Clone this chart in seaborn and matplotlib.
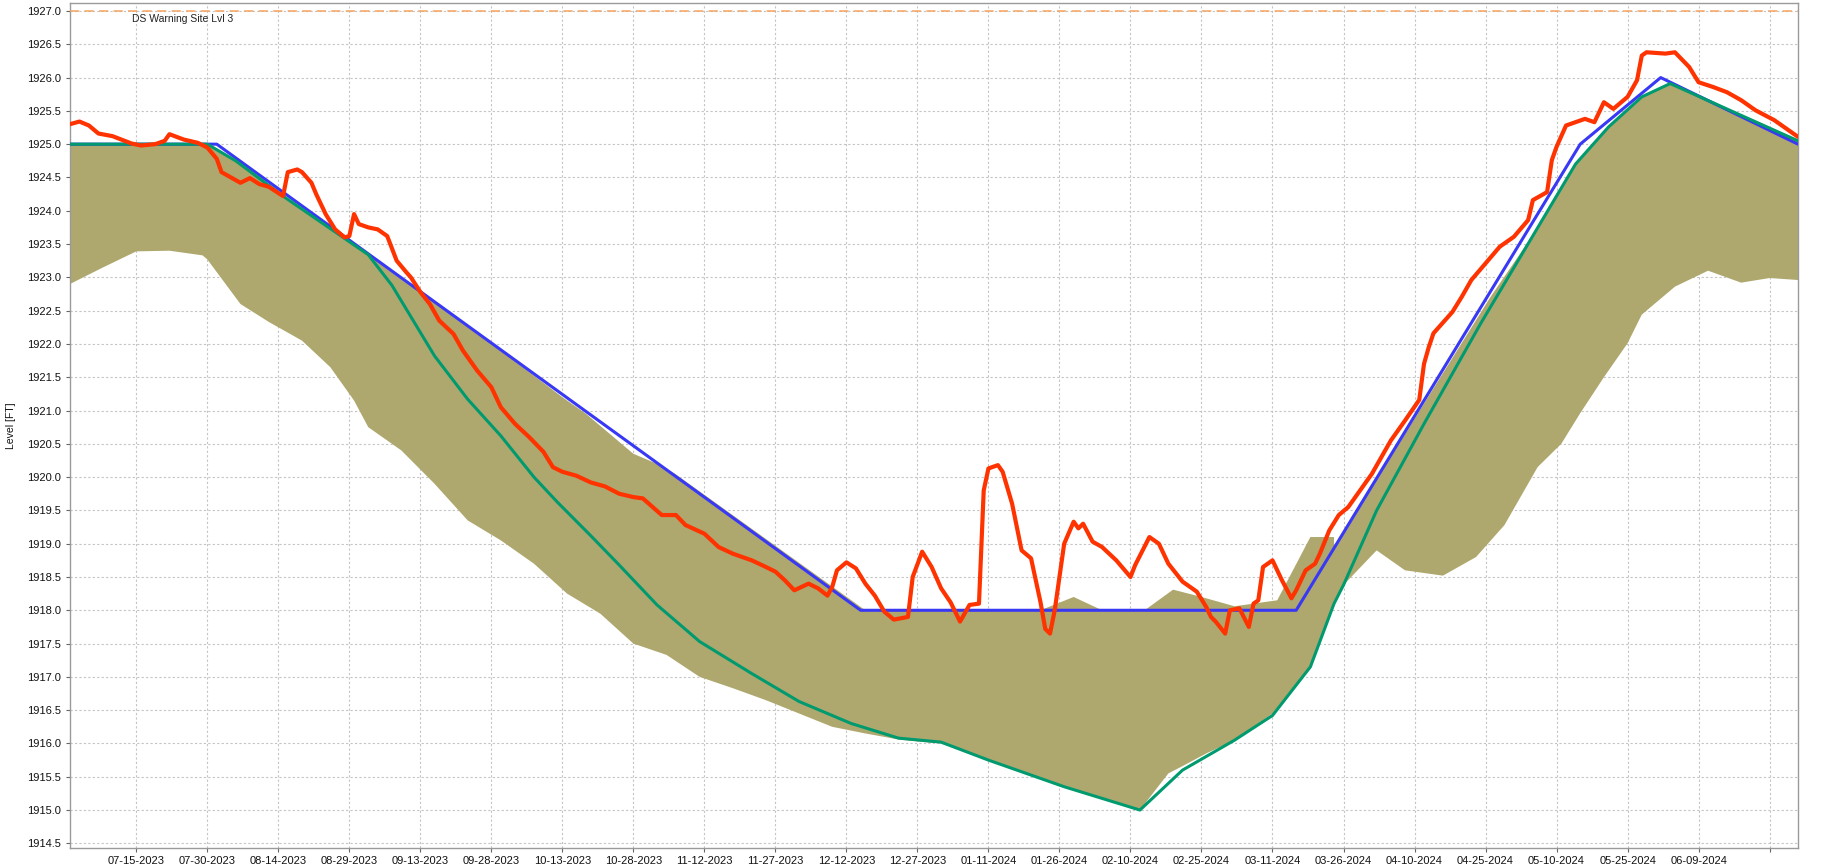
import numpy as np
import pandas as pd
import matplotlib
matplotlib.use("Agg")
import matplotlib.pyplot as plt
import matplotlib.dates as mdates
import seaborn as sns

# Observed pool level (red)
obs_dates = [
    "2023-07-01", "2023-07-03", "2023-07-05", "2023-07-07", "2023-07-10", "2023-07-14",
    "2023-07-16", "2023-07-19", "2023-07-21", "2023-07-22", "2023-07-25", "2023-07-28",
    "2023-07-30", "2023-08-01", "2023-08-02", "2023-08-04", "2023-08-06", "2023-08-08",
    "2023-08-10", "2023-08-12", "2023-08-15", "2023-08-16", "2023-08-18", "2023-08-19",
    "2023-08-21", "2023-08-22", "2023-08-24", "2023-08-26", "2023-08-28", "2023-08-29",
    "2023-08-30", "2023-08-31", "2023-09-02", "2023-09-04", "2023-09-06", "2023-09-08",
    "2023-09-10", "2023-09-11", "2023-09-13", "2023-09-15", "2023-09-17", "2023-09-20",
    "2023-09-22", "2023-09-25", "2023-09-28", "2023-09-30", "2023-10-03", "2023-10-06",
    "2023-10-09", "2023-10-11", "2023-10-13", "2023-10-16", "2023-10-19", "2023-10-22",
    "2023-10-25", "2023-10-28", "2023-10-30", "2023-11-03", "2023-11-06", "2023-11-08",
    "2023-11-12", "2023-11-15", "2023-11-18", "2023-11-22", "2023-11-25", "2023-11-27",
    "2023-11-29", "2023-12-01", "2023-12-04", "2023-12-06", "2023-12-08", "2023-12-09",
    "2023-12-10", "2023-12-12", "2023-12-14", "2023-12-16", "2023-12-18", "2023-12-20",
    "2023-12-22", "2023-12-25", "2023-12-26", "2023-12-28", "2023-12-30", "2024-01-01",
    "2024-01-03", "2024-01-05", "2024-01-07", "2024-01-09", "2024-01-10", "2024-01-11",
    "2024-01-13", "2024-01-14", "2024-01-16", "2024-01-18", "2024-01-20", "2024-01-22",
    "2024-01-23", "2024-01-24", "2024-01-25", "2024-01-27", "2024-01-29", "2024-01-30",
    "2024-01-31", "2024-02-02", "2024-02-04", "2024-02-07", "2024-02-10", "2024-02-11",
    "2024-02-14", "2024-02-16", "2024-02-18", "2024-02-21", "2024-02-24", "2024-02-26",
    "2024-02-27", "2024-02-28", "2024-03-01", "2024-03-02", "2024-03-04", "2024-03-06",
    "2024-03-07", "2024-03-08", "2024-03-09", "2024-03-11", "2024-03-13", "2024-03-15",
    "2024-03-16", "2024-03-18", "2024-03-20", "2024-03-21", "2024-03-23", "2024-03-25",
    "2024-03-27", "2024-03-29", "2024-04-01", "2024-04-03", "2024-04-05", "2024-04-08",
    "2024-04-11", "2024-04-12", "2024-04-13", "2024-04-14", "2024-04-18", "2024-04-20",
    "2024-04-22", "2024-04-25", "2024-04-28", "2024-05-01", "2024-05-04", "2024-05-05",
    "2024-05-08", "2024-05-09", "2024-05-10", "2024-05-12", "2024-05-16", "2024-05-18",
    "2024-05-20", "2024-05-22", "2024-05-25", "2024-05-27", "2024-05-28", "2024-05-29",
    "2024-06-02", "2024-06-04", "2024-06-07", "2024-06-09", "2024-06-12", "2024-06-15",
    "2024-06-18", "2024-06-21", "2024-06-25", "2024-06-28", "2024-06-30",
]
obs_level = [
    1925.30, 1925.34, 1925.28, 1925.16, 1925.12, 1925.01,
    1924.98, 1925.00, 1925.05, 1925.15, 1925.07, 1925.02,
    1924.95, 1924.78, 1924.58, 1924.50, 1924.42, 1924.49,
    1924.40, 1924.36, 1924.22, 1924.58, 1924.62, 1924.58,
    1924.42, 1924.25, 1923.95, 1923.72, 1923.60, 1923.62,
    1923.95, 1923.80, 1923.75, 1923.72, 1923.62, 1923.25,
    1923.08, 1923.00, 1922.78, 1922.60, 1922.35, 1922.15,
    1921.90, 1921.60, 1921.35, 1921.05, 1920.80, 1920.60,
    1920.38, 1920.15, 1920.08, 1920.02, 1919.92, 1919.86,
    1919.75, 1919.70, 1919.68, 1919.43, 1919.43, 1919.28,
    1919.15, 1918.95, 1918.85, 1918.75, 1918.65, 1918.58,
    1918.45, 1918.30, 1918.40, 1918.33, 1918.22, 1918.35,
    1918.60, 1918.72, 1918.63, 1918.40, 1918.22, 1917.98,
    1917.86, 1917.90, 1918.50, 1918.88, 1918.65, 1918.33,
    1918.12, 1917.83, 1918.08, 1918.10, 1919.80, 1920.13,
    1920.18, 1920.08, 1919.60, 1918.90, 1918.78, 1918.12,
    1917.72, 1917.65, 1918.00, 1919.00, 1919.33, 1919.23,
    1919.30, 1919.03, 1918.95, 1918.75, 1918.50, 1918.68,
    1919.10, 1919.00, 1918.70, 1918.43, 1918.28, 1918.05,
    1917.90, 1917.83, 1917.65, 1918.00, 1918.03, 1917.75,
    1918.10, 1918.15, 1918.65, 1918.75, 1918.45, 1918.18,
    1918.30, 1918.60, 1918.70, 1918.85, 1919.20, 1919.43,
    1919.55, 1919.75, 1920.05, 1920.30, 1920.55, 1920.85,
    1921.16, 1921.70, 1921.95, 1922.16, 1922.48, 1922.71,
    1922.96, 1923.21, 1923.46, 1923.61, 1923.86, 1924.16,
    1924.28, 1924.76, 1924.96, 1925.28, 1925.38, 1925.33,
    1925.63, 1925.53, 1925.71, 1925.96, 1926.33, 1926.38,
    1926.36, 1926.38, 1926.16, 1925.93, 1925.86, 1925.78,
    1925.66, 1925.51, 1925.36, 1925.21, 1925.11,
]

# Upper guide curve (blue)
upper_rule_dates = ["2023-07-01", "2023-08-01", "2023-12-15", "2024-03-16",
                    "2024-05-15", "2024-06-01", "2024-06-30"]
upper_rule_level = [1925.0, 1925.0, 1918.0, 1918.0, 1925.0, 1926.0, 1925.0]

# Lower guide curve (green)
lower_rule_dates = [
    "2023-07-01", "2023-07-30", "2023-08-05", "2023-08-15", "2023-09-02", "2023-09-07",
    "2023-09-16", "2023-09-23", "2023-09-30", "2023-10-07", "2023-10-12", "2023-10-19",
    "2023-10-25", "2023-11-02", "2023-11-11", "2023-11-22", "2023-12-02", "2023-12-13",
    "2023-12-23", "2024-01-01", "2024-01-11", "2024-01-27", "2024-02-12", "2024-02-21",
    "2024-03-03", "2024-03-11", "2024-03-19", "2024-03-24", "2024-03-26", "2024-04-02",
    "2024-04-12", "2024-04-24", "2024-05-14", "2024-05-21", "2024-05-28", "2024-06-03",
    "2024-06-30",
]
lower_rule_level = [
    1925.0, 1925.0, 1924.75, 1924.22, 1923.34, 1922.88,
    1921.82, 1921.17, 1920.62, 1920.00, 1919.62, 1919.12,
    1918.68, 1918.08, 1917.53, 1917.05, 1916.63, 1916.30,
    1916.08, 1916.02, 1915.75, 1915.35, 1915.00, 1915.60,
    1916.05, 1916.42, 1917.15, 1918.10, 1918.38, 1919.50,
    1920.80, 1922.31, 1924.70, 1925.26, 1925.71, 1925.91,
    1925.05,
]

# Shaded band, top edge and bottom edge
band_top_dates = [
    "2023-07-01", "2023-07-30", "2023-08-05", "2023-08-15", "2023-09-02", "2023-09-30",
    "2023-10-13", "2023-10-18", "2023-10-28", "2023-11-02", "2023-11-06", "2023-12-16",
    "2024-01-22", "2024-01-29", "2024-02-04", "2024-02-13", "2024-02-19", "2024-02-25",
    "2024-03-03", "2024-03-12", "2024-03-19", "2024-03-24", "2024-03-24", "2024-04-26",
    "2024-05-06", "2024-05-14", "2024-05-21", "2024-05-28", "2024-06-03", "2024-06-30",
]
band_top_level = [
    1925.0, 1925.0, 1924.75, 1924.22, 1923.34, 1921.90,
    1921.20, 1920.95, 1920.35, 1920.20, 1920.04, 1918.00,
    1918.00, 1918.20, 1918.00, 1918.00, 1918.31, 1918.20,
    1918.06, 1918.15, 1919.10, 1919.10, 1918.94, 1922.70,
    1923.74, 1924.70, 1925.26, 1925.71, 1925.91, 1925.05,
]
band_bottom_dates = [
    "2023-07-01", "2023-07-08", "2023-07-15", "2023-07-22", "2023-07-29", "2023-07-30",
    "2023-08-06", "2023-08-12", "2023-08-19", "2023-08-25", "2023-08-30", "2023-09-02",
    "2023-09-09", "2023-09-16", "2023-09-23", "2023-09-30", "2023-10-07", "2023-10-14",
    "2023-10-21", "2023-10-28", "2023-11-04", "2023-11-11", "2023-11-18", "2023-11-25",
    "2023-12-02", "2023-12-09", "2023-12-16", "2023-12-23", "2023-12-30", "2024-01-01",
    "2024-01-11", "2024-01-27", "2024-02-12", "2024-02-18", "2024-02-21", "2024-02-26",
    "2024-03-03", "2024-03-11", "2024-03-19", "2024-03-24", "2024-03-26", "2024-04-02",
    "2024-04-08", "2024-04-16", "2024-04-23", "2024-04-29", "2024-05-06", "2024-05-11",
    "2024-05-15", "2024-05-20", "2024-05-25", "2024-05-28", "2024-06-04", "2024-06-11",
    "2024-06-18", "2024-06-24", "2024-06-30",
]
band_bottom_level = [
    1922.90, 1923.15, 1923.39, 1923.40, 1923.33, 1923.27,
    1922.60, 1922.33, 1922.05, 1921.65, 1921.15, 1920.75,
    1920.40, 1919.90, 1919.35, 1919.05, 1918.70, 1918.25,
    1917.95, 1917.50, 1917.33, 1917.00, 1916.83, 1916.65,
    1916.45, 1916.25, 1916.15, 1916.06, 1916.01, 1916.00,
    1915.75, 1915.35, 1915.00, 1915.55, 1915.66, 1915.85,
    1916.05, 1916.45, 1917.15, 1918.10, 1918.38, 1918.90,
    1918.60, 1918.52, 1918.80, 1919.28, 1920.15, 1920.50,
    1920.96, 1921.50, 1922.01, 1922.44, 1922.86, 1923.10,
    1922.92, 1922.99, 1922.96,
]

warning_level = 1927.0
warning_label = "DS Warning Site Lvl 3"
tick_dates = pd.date_range("2023-07-15", "2024-06-24", freq="15D")
y_ticks = np.arange(1914.5, 1927.01, 0.5)

sns.set_theme(style="white")
plt.rcParams["font.family"] = ["Liberation Sans", "DejaVu Sans"]

fig = plt.figure(figsize=(18.22, 8.68), dpi=100)
ax = fig.add_axes([70 / 1822, 20 / 868, 1728 / 1822, 845 / 868])

# band polygon from its two edges
top_x = pd.to_datetime(band_top_dates)
bot_x = pd.to_datetime(band_bottom_dates)
poly_x = np.concatenate([mdates.date2num(top_x), mdates.date2num(bot_x)[::-1]])
poly_y = np.concatenate([band_top_level, band_bottom_level[::-1]])
ax.fill(poly_x, poly_y, color="#aea86e", linewidth=0, zorder=2)

sns.lineplot(x=pd.to_datetime(upper_rule_dates), y=upper_rule_level, ax=ax,
             color="#3838f5", linewidth=2.2, zorder=3)
sns.lineplot(x=pd.to_datetime(lower_rule_dates), y=lower_rule_level, ax=ax,
             color="#009a6e", linewidth=2.2, zorder=4)
sns.lineplot(x=pd.to_datetime(obs_dates), y=obs_level, ax=ax,
             color="#ff3300", linewidth=3.0, zorder=5)

ax.axhline(warning_level, color="#f5a462", linewidth=1.1, linestyle=(0, (6, 3.5)), zorder=6)
ax.text(pd.Timestamp("2023-07-14"), warning_level - 0.04, warning_label,
        fontsize=7.5, color="#222222", va="top", ha="left")

ax.set_xlim(pd.Timestamp("2023-07-01"), pd.Timestamp("2024-06-30"))
ax.set_ylim(1914.43, 1927.12)
ax.set_xticks(tick_dates)
ax.set_xticklabels([d.strftime("%m-%d-%Y") for d in tick_dates[:-1]] + [""])
ax.set_yticks(y_ticks)
ax.set_yticklabels([f"{v:.1f}" for v in y_ticks])
ax.tick_params(axis="both", labelsize=8, length=3, width=0.8, color="#666666",
               labelcolor="#111111", bottom=True, left=True)
ax.tick_params(axis="y", pad=3.5)
ax.tick_params(axis="x", pad=3)
ax.set_xlabel("")
ax.set_ylabel("Level [FT]", fontsize=7.5, labelpad=8, color="#111111")

ax.grid(True, color="#c4c4c4", linestyle=(0, (2, 2)), linewidth=0.8, zorder=0)
ax.set_axisbelow(True)
for side in ["left", "right", "top", "bottom"]:
    ax.spines[side].set_color("#9a9a9a")
    ax.spines[side].set_linewidth(1.0)

fig.savefig("out.png", dpi=100)
plt.close(fig)
